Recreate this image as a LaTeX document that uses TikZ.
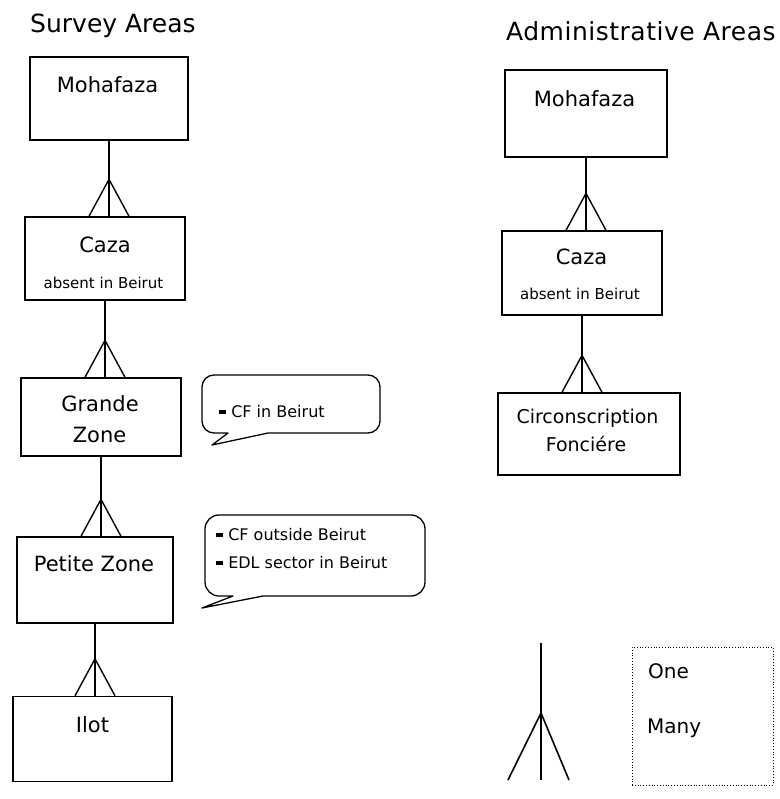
\documentclass[tikz,border=0pt]{standalone}
\usepackage{fontspec}
\setmainfont{DejaVu Sans}
\newfontfamily\widefont[LetterSpace=2]{DejaVu Sans}
\usepackage{tikz}
\usetikzlibrary{positioning}

\newcommand{\crowlink}[2]{%
  \draw[link] (#1.south) -- (#1.south |- #2.north) coordinate (#2-foot);
  \draw[link] ([xshift=-20pt]#2-foot) -- ([yshift=37pt]#2-foot) -- ([xshift=20pt]#2-foot);
}
\newcommand{\blt}{\rule[3pt]{7pt}{4pt}\ }

\begin{document}
\begin{tikzpicture}[
      x=1pt, y=-1pt,
      areabox/.style={draw, rectangle, line width=1.4pt, inner sep=0pt},
      lbl/.style={anchor=base, inner sep=0pt, font=\fontsize{21}{25}\selectfont},
      small/.style={anchor=base, inner sep=0pt, font=\fontsize{15}{18}\selectfont},
      title/.style={anchor=base west, inner sep=0pt, font=\fontsize{25}{30}\selectfont},
      note/.style={anchor=base west, inner sep=0pt, font=\fontsize{16}{19}\selectfont},
      link/.style={line width=1.4pt},
      bubble/.style={line width=1.3pt, line join=round}
      ]
      \useasboundingbox (0,0) rectangle (779,799);

      % Titles
      \node[title] (svTitle) at (30,33) {Survey Areas};
      \node[title, font=\fontsize{25}{30}\widefont] (adTitle) at (506,41) {Administrative Areas};

      % Survey areas
      \node[areabox, minimum width=158pt, minimum height=83pt] (svMoh) at (109,98.5) {};
      \node[areabox, minimum width=160pt, minimum height=83pt] (svCaza) at (105,258.5) {};
      \node[areabox, minimum width=160pt, minimum height=78pt] (svGrande) at (101,417) {};
      \node[areabox, minimum width=156pt, minimum height=86pt] (svPetite) at (95,580) {};
      \node[areabox, minimum width=159pt, minimum height=85pt] (svIlot) at (92.5,739) {};

      \node[lbl] (svMohT) at (107.5,93) {Mohafaza};
      \node[lbl] (svCazaT) at (105,252) {Caza};
      \node[small] (svCazaN) at (103.5,288) {absent in Beirut};
      \node[lbl] (svGrandeT) at (100,411) {Grande};
      \node[lbl] (svGrandeU) at (99.5,442) {Zone};
      \node[lbl] (svPetiteT) at (94,571) {Petite Zone};
      \node[lbl] (svIlotT) at (92.5,732) {Ilot};

      % Administrative areas
      \node[areabox, minimum width=162pt, minimum height=87pt] (adMoh) at (586,113.5) {};
      \node[areabox, minimum width=160pt, minimum height=84pt] (adCaza) at (582,273) {};
      \node[areabox, minimum width=182pt, minimum height=82pt] (adCirc) at (589,434) {};

      \node[lbl] (adMohT) at (584.5,107) {Mohafaza};
      \node[lbl] (adCazaT) at (581.5,265) {Caza};
      \node[small] (adCazaN) at (580,299) {absent in Beirut};
      \node[lbl, font=\fontsize{19}{23}\selectfont] (adCircT) at (587.5,423) {Circonscription};
      \node[lbl, font=\fontsize{19}{23}\selectfont] (adCircU) at (586,451) {Fonciére};

      % Connections
      \crowlink{svMoh}{svCaza}
      \crowlink{svCaza}{svGrande}
      \crowlink{svGrande}{svPetite}
      \crowlink{svPetite}{svIlot}
      \crowlink{adMoh}{adCaza}
      \crowlink{adCaza}{adCirc}

      % Notes
      \draw[bubble] (212,445) -- (268,433) [rounded corners=12pt] -- (380,433) -- (380,375)
        -- (202,375) -- (202,433) [sharp corners] -- (228,433) -- cycle;
      \node[note] (gzNote) at (219,417) {\blt CF in Beirut};

      \draw[bubble] (202,608) -- (263,596) [rounded corners=14pt] -- (425,596) -- (425,515)
        -- (205,515) -- (205,596) [sharp corners] -- (233,596) -- cycle;
      \node[note] (pzNote) at (216,540) {\blt CF outside Beirut};
      \node[note] (pzNoteB) at (216,568) {\blt EDL sector in Beirut};

      % Legend
      \coordinate (lgTop) at (541,643);
      \coordinate (lgBot) at (541,780);
      \draw[link, line width=1.6pt] (lgTop) -- (lgBot);
      \draw[link, line width=1.6pt] ([xshift=-33pt]lgBot) -- ([yshift=67pt]lgBot) -- ([xshift=28pt]lgBot);
      \node[draw, dotted, line width=0.8pt, minimum width=141pt, minimum height=138pt] (lgBox) at (702.5,716) {};
      \node[note, font=\fontsize{20}{24}\selectfont] (lgOne) at (648,678) {One};
      \node[note, font=\fontsize{20}{24}\selectfont] (lgMany) at (647,733) {Many};

\end{tikzpicture}
\end{document}
